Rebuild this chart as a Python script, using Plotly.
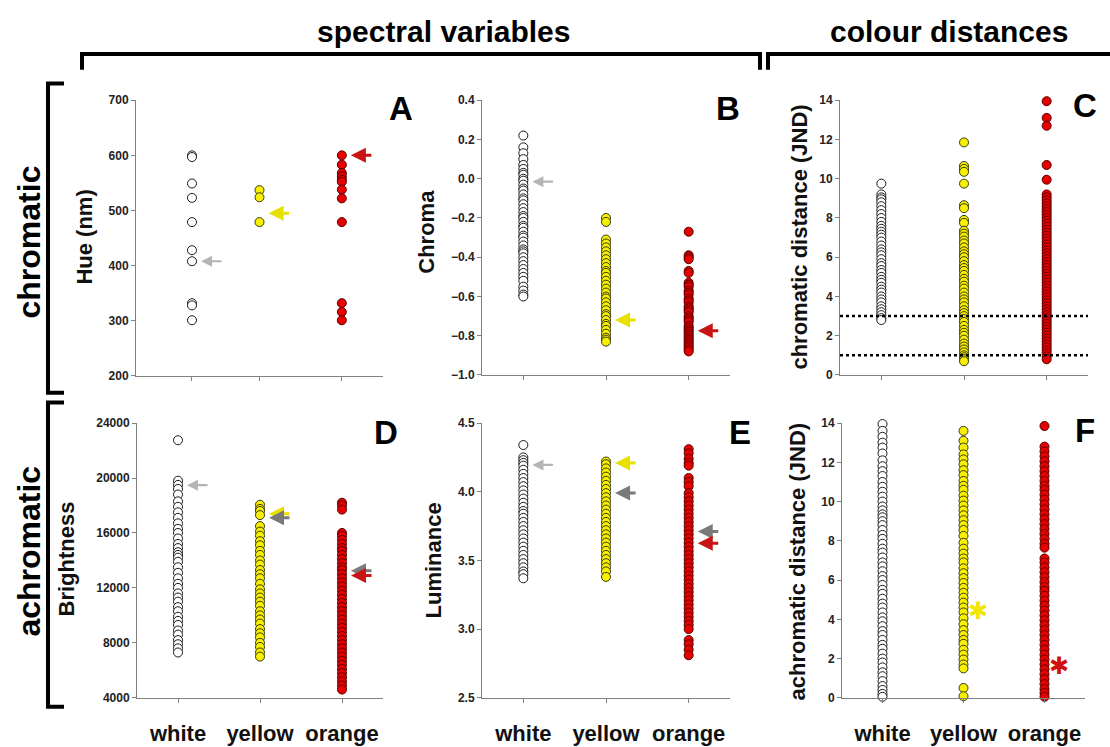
import plotly.graph_objects as go

W, H = 1110, 747

# ---------------- data ----------------
categories = ["white", "yellow", "orange"]

# A: Hue (nm)
hue_white = [600, 597, 549, 523, 479, 428, 408, 332, 328, 301]
hue_yellow = [537, 524, 479]
hue_orange = [600, 583, 568, 562, 556, 552, 538, 522, 479, 332, 316, 301]

# B: Chroma
chroma_white = [0.22, 0.16, 0.13, 0.10, 0.07, 0.05, 0.03, 0.02, 0.00, -0.01, -0.03, -0.05, -0.06,
                -0.08, -0.10, -0.11, -0.13, -0.15, -0.17, -0.19, -0.20, -0.22, -0.24, -0.25, -0.27,
                -0.29, -0.30, -0.32, -0.34, -0.36, -0.37, -0.38, -0.40, -0.42, -0.44, -0.46, -0.48,
                -0.50, -0.52, -0.55, -0.57, -0.59, -0.60]
chroma_yellow = [-0.20, -0.22, -0.31, -0.33, -0.35, -0.37, -0.39, -0.41, -0.43, -0.45, -0.47, -0.48,
                 -0.50, -0.52, -0.54, -0.56, -0.58, -0.60, -0.61, -0.63, -0.65, -0.67, -0.69, -0.70,
                 -0.72, -0.74, -0.75, -0.77, -0.79, -0.81, -0.82, -0.83]
chroma_orange = [-0.27, -0.39, -0.40, -0.41, -0.47, -0.48, -0.53, -0.54, -0.55, -0.57, -0.58, -0.59,
                 -0.61, -0.62, -0.63, -0.65, -0.66, -0.67, -0.68, -0.70, -0.71, -0.72, -0.73, -0.75,
                 -0.76, -0.77, -0.78, -0.79, -0.80, -0.81, -0.82, -0.83, -0.84, -0.85, -0.86, -0.87,
                 -0.88]

# C: chromatic distance (JND)
cdist_white = [9.75, 9.2, 9.05, 8.95, 8.8, 8.6, 8.4, 8.2, 8.0, 7.8, 7.6, 7.45, 7.3, 7.15, 7.0, 6.8,
               6.6, 6.4, 6.25, 6.1, 5.9, 5.7, 5.55, 5.35, 5.2, 5.0, 4.85, 4.7, 4.5, 4.35, 4.2, 4.0,
               3.85, 3.7, 3.5, 3.35, 3.2, 3.05, 2.9, 2.8]
cdist_yellow = [11.85, 10.65, 10.5, 10.35, 9.75, 8.65, 8.5, 7.9, 7.75, 7.35, 7.2, 7.05, 6.85, 6.7,
                6.5, 6.3, 6.15, 6.0, 5.8, 5.6, 5.45, 5.3, 5.1, 4.9, 4.75, 4.55, 4.4, 4.2, 4.0, 3.85,
                3.7, 3.5, 3.3, 3.15, 3.0, 2.85, 2.7, 2.5, 2.3, 2.15, 2.0, 1.8, 1.6, 1.45, 1.3, 1.15,
                1.0, 0.9, 0.8, 0.7]
cdist_orange = [13.95, 13.1, 12.7, 10.7, 9.95, 9.2, 9.05, 8.9, 8.75, 8.6, 8.45, 8.3, 8.15, 8.0,
                7.85, 7.7, 7.55, 7.4, 7.25, 7.1, 6.95, 6.8, 6.65, 6.5, 6.35, 6.2, 6.05, 5.9, 5.75,
                5.6, 5.45, 5.3, 5.15, 5.0, 4.85, 4.7, 4.55, 4.4, 4.25, 4.1, 3.95, 3.8, 3.65, 3.5,
                3.35, 3.2, 3.05, 2.9, 2.75, 2.6, 2.45, 2.3, 2.15, 2.0, 1.85, 1.7, 1.55, 1.4, 1.25,
                1.1, 0.95, 0.8]
cdist_thresholds = [1, 3]

# D: Brightness
bright_white = [22750, 19800, 19500, 19200, 18800, 18300, 17900, 17500, 17100, 16700, 16300, 16000,
                15600, 15200, 14900, 14600, 14400, 14200, 13900, 13500, 13100, 12700, 12300, 12000,
                11600, 11300, 11000, 10600, 10300, 9900, 9600, 9300, 8900, 8600, 8200, 7900, 7600,
                7300]
bright_yellow = [18050, 17750, 17600, 17300, 16500, 16100, 15800, 15400, 15100, 14700, 14400, 14000,
                 13700, 13300, 13000, 12700, 12300, 11900, 11600, 11300, 11000, 10700, 10300, 10000,
                 9700, 9400, 9000, 8700, 8400, 8000, 7700, 7300, 7000]
bright_orange = [18200, 18000, 17700, 16000, 15800, 15500, 15200, 14900, 14700, 14400, 14100, 13800,
                 13500, 13300, 13000, 12700, 12400, 12100, 11800, 11500, 11200, 10900, 10600, 10300,
                 10000, 9700, 9400, 9100, 8800, 8500, 8200, 7900, 7600, 7300, 7000, 6700, 6400, 6100,
                 5800, 5500, 5200, 4900, 4600]

# E: Luminance
lum_white = [4.34, 4.25, 4.23, 4.21, 4.19, 4.16, 4.13, 4.10, 4.07, 4.04, 4.01, 3.98, 3.95, 3.92,
             3.89, 3.86, 3.84, 3.81, 3.78, 3.75, 3.72, 3.69, 3.66, 3.63, 3.60, 3.57, 3.54, 3.51,
             3.48, 3.45, 3.42, 3.40, 3.37]
lum_yellow = [4.22, 4.20, 4.17, 4.14, 4.11, 4.08, 4.05, 4.02, 3.99, 3.96, 3.93, 3.90, 3.87, 3.84,
              3.81, 3.78, 3.75, 3.72, 3.69, 3.66, 3.63, 3.60, 3.57, 3.54, 3.51, 3.48, 3.45, 3.42,
              3.38]
lum_orange = [4.31, 4.28, 4.24, 4.21, 4.19, 4.10, 4.07, 4.04, 3.99, 3.96, 3.93, 3.90, 3.87, 3.84,
              3.81, 3.78, 3.75, 3.72, 3.69, 3.66, 3.63, 3.60, 3.57, 3.54, 3.51, 3.48, 3.45, 3.42,
              3.39, 3.36, 3.33, 3.30, 3.27, 3.24, 3.21, 3.18, 3.15, 3.12, 3.09, 3.06, 3.03, 3.00,
              2.92, 2.89, 2.85, 2.81]

# F: achromatic distance (JND)
adist_white = [13.95, 13.6, 13.3, 13.0, 12.75, 12.45, 12.1, 11.8, 11.55, 11.3, 11.0, 10.75, 10.5,
               10.25, 10.0, 9.75, 9.55, 9.35, 9.2, 9.0, 8.8, 8.55, 8.3, 8.1, 7.85, 7.6, 7.4, 7.15,
               6.9, 6.7, 6.45, 6.2, 6.0, 5.75, 5.5, 5.3, 5.05, 4.8, 4.6, 4.35, 4.1, 3.9, 3.65, 3.4,
               3.2, 2.95, 2.7, 2.5, 2.25, 2.0, 1.8, 1.55, 1.3, 1.1, 0.85, 0.6, 0.4, 0.2, 0.05]
adist_yellow = [13.6, 13.1, 12.75, 12.4, 12.15, 11.9, 11.6, 11.35, 11.05, 10.8, 10.6, 10.3, 10.05,
                9.8, 9.55, 9.3, 9.05, 8.8, 8.55, 8.25, 7.9, 7.6, 7.35, 7.1, 6.9, 6.6, 6.35, 6.1,
                5.85, 5.6, 5.35, 5.1, 4.85, 4.6, 4.35, 4.05, 3.75, 3.45, 3.2, 2.95, 2.75, 2.45, 2.2,
                1.95, 1.7, 1.5, 0.5, 0.08]
adist_orange = [13.85, 12.8, 12.55, 12.3, 12.05, 11.8, 11.55, 11.3, 11.05, 10.8, 10.6, 10.35, 10.1,
                9.85, 9.6, 9.35, 9.1, 8.85, 8.6, 8.35, 8.1, 7.85, 7.65, 7.1, 6.9, 6.65, 6.4, 6.15,
                5.9, 5.65, 5.45, 5.2, 4.95, 4.7, 4.45, 4.2, 3.95, 3.7, 3.45, 3.2, 2.95, 2.7, 2.45,
                2.2, 1.95, 1.7, 1.45, 1.2, 0.95, 0.7, 0.45, 0.25, 0.05]
# significance asterisks in F (yellow, orange)
asterisk_F = [("yellow", 4.4), ("orange", 1.6)]

# arrows (category, value, arrow style)
arrows_A = [("white", 408, "open"), ("yellow", 495, "yellow"), ("orange", 600, "red")]
arrows_B = [("white", -0.015, "open"), ("yellow", -0.72, "yellow"), ("orange", -0.775, "red")]
arrows_D = [("white", 19480, "open"), ("yellow", 17400, "yellow"), ("yellow", 17100, "gray"),
            ("orange", 13250, "gray"), ("orange", 12900, "red")]
arrows_E = [("white", 4.195, "open"), ("yellow", 4.21, "yellow"), ("yellow", 3.99, "gray"),
            ("orange", 3.71, "gray"), ("orange", 3.625, "red")]

# ---------------- style ----------------
FONT = "Liberation Sans, Arial, Helvetica, sans-serif"
fill = {"white": "#ffffff", "yellow": "#f7f000", "orange": "#e60000"}
edge = {"white": "#1a1a1a", "yellow": "#3a3a10", "orange": "#5a0000"}
arrow_col = {"open": "#b4b4b4", "yellow": "#e8e000", "red": "#c81414", "gray": "#7a7a7a"}


def xp(v):
    return v / W


def yp(v):
    return 1 - v / H


def label(text, x, y, size, angle=0, color="#000"):
    return dict(text=f"<b>{text}</b>", x=xp(x), y=yp(y), xref="paper", yref="paper",
                xanchor="center", yanchor="middle", showarrow=False, textangle=angle,
                font=dict(family=FONT, size=size, color=color))


panels = [
    dict(key="A", data=[hue_white, hue_yellow, hue_orange], title="Hue (nm)",
         yrange=[200, 700], dtick=100, fmt="d", box=(136, 383, 95, 376), pos=[1.18, 2, 3],
         bottom=False, title_xy=(85, 235), letter_xy=(401, 103), arrows=arrows_A),
    dict(key="B", data=[chroma_white, chroma_yellow, chroma_orange], title="Chroma",
         yrange=[-1.0, 0.4], dtick=0.2, fmt=".1f", box=(482, 730, 95, 375), pos=[1, 2, 3],
         bottom=False, title_xy=(427, 229), letter_xy=(728, 103), arrows=arrows_B),
    dict(key="C", data=[cdist_white, cdist_yellow, cdist_orange], title="chromatic distance (JND)",
         yrange=[0, 14], dtick=2, fmt="d", box=(840, 1088, 95, 375), pos=[1, 2, 3],
         bottom=False, title_xy=(800, 235), letter_xy=(1085, 100), arrows=[]),
    dict(key="D", data=[bright_white, bright_yellow, bright_orange], title="Brightness",
         yrange=[4000, 24000], dtick=4000, fmt="d", box=(137, 383, 424, 704), pos=[1, 2, 3],
         bottom=True, title_xy=(66, 563), letter_xy=(386, 434), arrows=arrows_D),
    dict(key="E", data=[lum_white, lum_yellow, lum_orange], title="Luminance",
         yrange=[2.5, 4.5], dtick=0.5, fmt=".1f", box=(482, 730, 424, 704), pos=[1, 2, 3],
         bottom=True, title_xy=(433, 564), letter_xy=(740, 434), arrows=arrows_E),
    dict(key="F", data=[adist_white, adist_yellow, adist_orange], title="achromatic distance (JND)",
         yrange=[0, 14], dtick=2, fmt="d", box=(842, 1085, 424, 704), pos=[1, 2, 3],
         bottom=True, title_xy=(797, 565), letter_xy=(1085, 432), arrows=[]),
]

fig = go.Figure()
annotations = []
shapes = []

for i, p in enumerate(panels, start=1):
    xa = "x" if i == 1 else f"x{i}"
    ya = "y" if i == 1 else f"y{i}"
    x0, x1, y0, y1 = p["box"]
    for cat, vals, pos in zip(categories, p["data"], p["pos"]):
        fig.add_trace(go.Scatter(
            x=[pos] * len(vals), y=vals, mode="markers", xaxis=xa, yaxis=ya,
            cliponaxis=False, showlegend=False, name=cat,
            marker=dict(size=9, color=fill[cat], line=dict(color=edge[cat], width=1)),
        ))
    axis_common = dict(showline=True, linecolor="#808080", linewidth=1, showgrid=False,
                       zeroline=False, ticks="outside", ticklen=4, tickcolor="#808080")
    fig.layout[f"xaxis{'' if i == 1 else i}"] = dict(
        axis_common, domain=[xp(x0), xp(x1)], anchor=ya, range=[0.5, 3.5],
        tickvals=p["pos"], ticktext=categories, showticklabels=p["bottom"],
        ticklabelstandoff=12,
        tickfont=dict(family=FONT, size=22, color="#111", weight="bold"),
    )
    fig.layout[f"yaxis{'' if i == 1 else i}"] = dict(
        axis_common, domain=[yp(y1), yp(y0)], anchor=xa, range=p["yrange"],
        dtick=p["dtick"], tick0=p["yrange"][0], tickformat=p["fmt"],
        tickfont=dict(family=FONT, size=12, color="#222", weight="bold"),
    )
    tx, ty = p["title_xy"]
    annotations.append(label(p["title"], tx, ty, 22, angle=-90, color="#111"))
    lx, ly = p["letter_xy"]
    annotations.append(label(p["key"], lx, ly, 33))
    for cat, val, style in p["arrows"]:
        cx = p["pos"][categories.index(cat)]
        annotations.append(dict(
            x=cx + 0.11, y=val, xref=xa, yref=ya, ax=22, ay=0, text="", showarrow=True,
            arrowhead=2, arrowsize=1.0, arrowwidth=3 if style != "open" else 2.2,
            arrowcolor=arrow_col[style], standoff=0,
        ))

# dotted threshold lines in C
for t in cdist_thresholds:
    shapes.append(dict(type="line", xref="x3 domain", yref="y3", x0=0, x1=1, y0=t, y1=t,
                       line=dict(color="#000", width=2.5, dash="dot")))

# asterisks in F
ast_col = {"yellow": "#f2e600", "orange": "#d01010"}
for cat, val in asterisk_F:
    cx = panels[5]["pos"][categories.index(cat)]
    annotations.append(dict(text="✱", x=cx + 0.18, y=val, xref="x6", yref="y6", showarrow=False,
                            xanchor="center", yanchor="middle",
                            font=dict(family="DejaVu Sans", size=24, color=ast_col[cat])))

# group headers
annotations.append(label("spectral variables", 444, 25, 30))
annotations.append(label("colour distances", 949, 25, 30))
annotations.append(label("chromatic", 29, 240, 32, angle=-90))
annotations.append(label("achromatic", 29, 555, 32, angle=-90))


def path(points):
    return "M " + " L ".join(f"{xp(a):.5f},{yp(b):.5f}" for a, b in points)


bracket_paths = [
    [(82, 64), (82, 48), (760, 48), (760, 64)],
    [(768, 64), (768, 48), (1112, 48)],
    [(64, 78), (48, 78), (48, 393), (64, 393)],
    [(64, 403), (48, 403), (48, 713), (64, 713)],
]
for pts in bracket_paths:
    shapes.append(dict(type="path", xref="paper", yref="paper", path=path(pts),
                       line=dict(color="#000", width=4)))

fig.update_layout(
    width=W, height=H, margin=dict(l=0, r=0, t=0, b=0),
    paper_bgcolor="white", plot_bgcolor="white",
    annotations=annotations, shapes=shapes, showlegend=False,
    font=dict(family=FONT),
)

fig.write_html("out.html", config={"displayModeBar": False})
